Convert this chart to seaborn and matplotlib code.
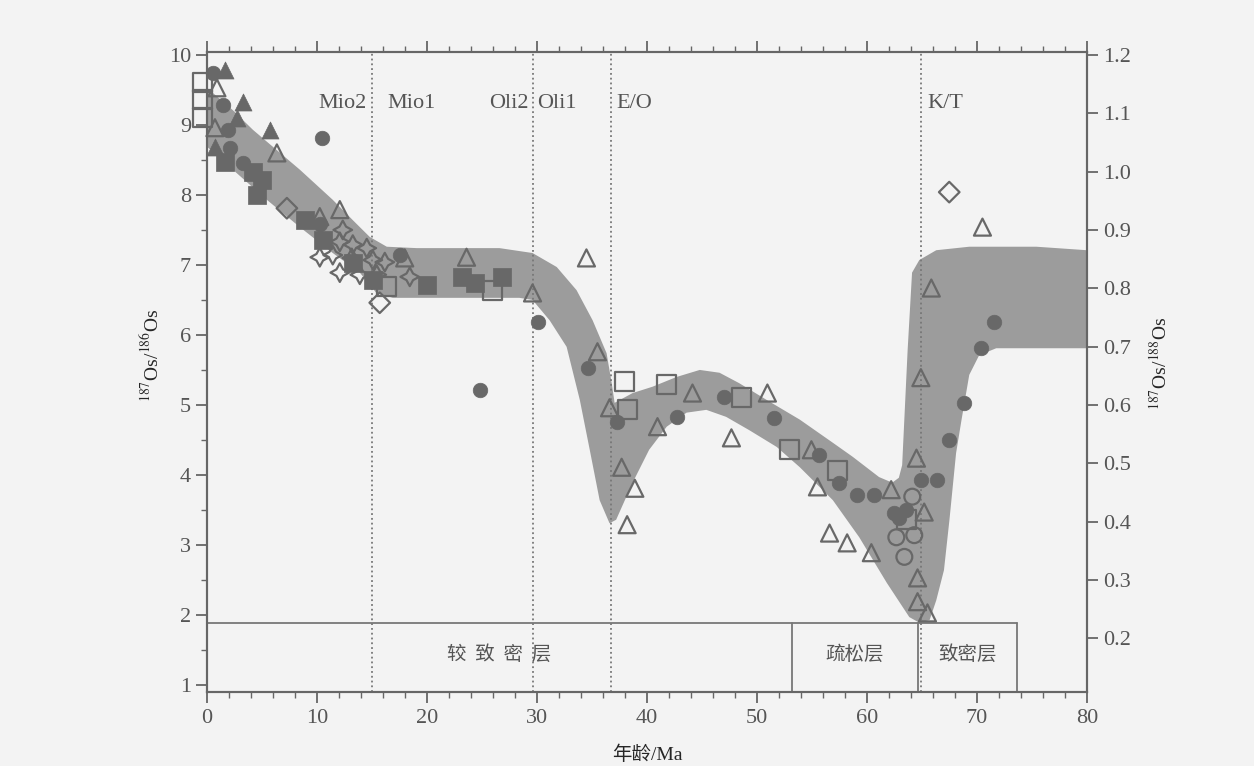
import matplotlib
matplotlib.use('Agg')
import matplotlib.pyplot as plt
import seaborn as sns
import pandas as pd
from matplotlib.ticker import MultipleLocator

# --- data: age (Ma) and 187Os/186Os ---
# filled circles
fc_age = [0.54, 1.45, 1.91, 2.09, 3.27, 10.45, 10.26, 17.53, 30.06, 24.8, 34.6, 37.24, 42.69,
          47.05, 51.59, 55.68, 57.49, 59.13, 60.67, 62.49, 63.58, 62.94, 64.94, 66.39, 67.48,
          68.85, 70.39, 71.57]
fc_val = [9.74, 9.29, 8.93, 8.67, 8.46, 8.81, 7.59, 7.14, 6.19, 5.21, 5.53, 4.76, 4.83,
          5.11, 4.81, 4.29, 3.89, 3.71, 3.71, 3.46, 3.50, 3.39, 3.93, 3.93, 4.50,
          5.03, 5.81, 6.19]

# filled triangles
ft_age = [1.63, 3.27, 2.72, 5.72, 0.73]
ft_val = [9.79, 9.33, 9.10, 8.93, 8.69]

# filled squares
fs_age = [1.63, 4.18, 5.0, 4.54, 8.9, 10.54, 13.26, 15.08, 19.98, 23.16, 24.34, 26.79]
fs_val = [8.47, 8.33, 8.21, 8.00, 7.64, 7.36, 7.03, 6.79, 6.71, 6.83, 6.74, 6.83]

# open triangles
ot_age = [0.91, 0.73, 6.36, 10.26, 12.08, 17.98, 23.6, 29.6, 34.5, 35.5, 36.6, 37.7, 38.9,
          38.2, 40.96, 44.14, 47.68, 50.95, 54.95, 55.5, 56.6, 58.2, 60.4, 62.2, 64.5,
          65.2, 64.6, 64.6, 65.5, 65.85, 70.5, 64.9]
ot_val = [9.53, 8.96, 8.60, 7.69, 7.79, 7.10, 7.11, 6.60, 7.10, 5.76, 4.96, 4.11, 3.81,
          3.29, 4.69, 5.17, 4.53, 5.17, 4.36, 3.83, 3.17, 3.03, 2.89, 3.79, 4.24,
          3.47, 2.53, 2.19, 2.03, 6.67, 7.54, 5.39]

# open squares
osq_age = [-0.4, -0.4, -0.4, 16.35, 25.98, 37.97, 38.24, 41.78, 48.59, 52.95, 57.31, 63.58]
osq_val = [9.60, 9.36, 9.10, 6.69, 6.64, 5.33, 4.93, 5.29, 5.11, 4.36, 4.06, 3.36]

# open diamonds
od_age = [7.27, 15.71, 67.48]
od_val = [7.81, 6.46, 8.04]

# open circles
oc_age = [64.12, 62.67, 64.3, 63.4]
oc_val = [3.69, 3.11, 3.14, 2.83]

# open four-point stars
st_age = [12.35, 12.08, 13.26, 14.53, 10.26, 11.44, 13.17, 15.08, 16.17, 12.08, 13.9, 15.44, 18.44]
st_val = [7.50, 7.33, 7.29, 7.24, 7.11, 7.14, 7.10, 7.07, 7.04, 6.89, 6.86, 6.86, 6.83]

# grey envelope: upper and lower edges
band_top_age = [0, 2.36, 4.18, 8.45, 11.44, 13.26, 14.8, 16.35, 19.07, 26.6, 29.6, 31.8, 33.6,
                35.06, 36.33, 36.8, 37.06, 38.7, 40.5, 42.7, 44.8, 46.6, 48.4, 50.9, 53.9,
                56.9, 58.7, 61.1, 62.3, 62.9, 63.2, 63.7, 64.1, 64.76, 66.3, 69.3, 75.4, 80]
band_top_val = [9.53, 9.21, 8.93, 8.36, 7.93, 7.64, 7.40, 7.26, 7.24, 7.24, 7.17, 6.97, 6.64,
                6.21, 5.74, 5.31, 5.03, 5.17, 5.26, 5.40, 5.50, 5.46, 5.31, 5.07, 4.79,
                4.46, 4.26, 3.97, 3.89, 3.96, 4.14, 5.79, 6.89, 7.07, 7.21, 7.26, 7.26, 7.21]
band_bot_age = [0, 2.36, 5.45, 8.45, 11.44, 13.9, 15.4, 16.9, 20.5, 28.4, 29.6, 31.15, 32.7,
                33.9, 34.8, 35.7, 36.6, 37.2, 38.7, 40.2, 41.8, 43.6, 45.4, 47.2, 49.3,
                51.8, 53.9, 56.9, 59.3, 61.8, 63.85, 64.76, 65.7, 66.3, 67.0, 67.5, 68.1,
                68.6, 69.3, 70.2, 71.75, 75.7, 80]
band_bot_val = [8.69, 8.36, 7.93, 7.54, 7.17, 6.89, 6.60, 6.53, 6.53, 6.53, 6.50, 6.21, 5.83,
                5.07, 4.36, 3.64, 3.31, 3.36, 3.89, 4.36, 4.69, 4.89, 4.93, 4.83, 4.64,
                4.40, 4.11, 3.64, 3.11, 2.46, 1.97, 1.89, 1.93, 2.21, 2.64, 3.36, 4.31,
                4.79, 5.43, 5.71, 5.81, 5.81, 5.81]

# stratigraphic boundaries and layer zones
boundary_ages = [15.0, 29.6, 36.7, 64.9]
zone_edges = [0, 53.2, 64.6, 73.6]
zone_names = ['较  致  密  层', '疏松层', '致密层']
zone_top = 1.88

INK = '#555555'
BAND = '#9c9c9c'
DARK = '#686868'
BG = '#f3f3f3'

sns.set_style('ticks')
plt.rcParams['font.family'] = ['Liberation Serif', 'Noto Sans CJK SC']
plt.rcParams['mathtext.fontset'] = 'stix'
plt.rcParams['text.color'] = INK
plt.rcParams['axes.edgecolor'] = '#666666'
plt.rcParams['xtick.color'] = '#666666'
plt.rcParams['ytick.color'] = '#666666'
plt.rcParams['xtick.labelcolor'] = INK
plt.rcParams['ytick.labelcolor'] = INK

fig = plt.figure(figsize=(12.54, 7.66), dpi=100, facecolor=BG)
ax = fig.add_axes([0.165, 0.0966, 0.7018, 0.8354])
ax.set_facecolor(BG)

# envelope
poly_x = band_top_age + band_bot_age[::-1]
poly_y = band_top_val + band_bot_val[::-1]
ax.fill(poly_x, poly_y, color=BAND, lw=0, zorder=1)

# boundary lines
for b in boundary_ages:
    ax.axvline(b, color='#777777', ls=':', lw=1.3, zorder=2)

# layer boxes at the bottom
ax.plot([0, zone_edges[-1]], [zone_top, zone_top], color='#777777', lw=1.3, zorder=2)
for e in zone_edges[1:]:
    ax.plot([e, e], [0.9, zone_top], color='#777777', lw=1.3, zorder=2)
for i, name in enumerate(zone_names):
    mid = (zone_edges[i] + zone_edges[i + 1]) / 2
    ax.text(mid, 1.43, name, ha='center', va='center', fontsize=14,
            family=['Noto Sans CJK SC'], color=INK)

# markers
def scat(xs, ys, marker, size, filled):
    df = pd.DataFrame({'age': xs, 'ratio': ys})
    if filled:
        sns.scatterplot(data=df, x='age', y='ratio', marker=marker, s=size, color=DARK,
                        edgecolor=DARK, linewidth=0.5, ax=ax, zorder=4, clip_on=False)
    else:
        sns.scatterplot(data=df, x='age', y='ratio', marker=marker, s=size, facecolor='none',
                        edgecolor=DARK, linewidth=1.6, ax=ax, zorder=4, clip_on=False)

scat(fc_age, fc_val, 'o', 110, True)
scat(ft_age, ft_val, '^', 150, True)
scat(fs_age, fs_val, 's', 150, True)
scat(ot_age, ot_val, '^', 150, False)
scat(osq_age, osq_val, 's', 190, False)
scat(od_age, od_val, 'D', 110, False)
scat(oc_age, oc_val, 'o', 130, False)
scat(st_age, st_val, (4, 1, 0), 180, False)

# boundary names
lab_y = 9.3
ax.text(boundary_ages[0] - 0.5, lab_y, 'Mio2', ha='right', va='center', fontsize=16)
ax.text(boundary_ages[0] + 1.4, lab_y, 'Mio1', ha='left', va='center', fontsize=16)
ax.text(boundary_ages[1] - 0.4, lab_y, 'Oli2', ha='right', va='center', fontsize=16)
ax.text(boundary_ages[1] + 0.4, lab_y, 'Oli1', ha='left', va='center', fontsize=16)
ax.text(boundary_ages[2] + 0.5, lab_y, 'E/O', ha='left', va='center', fontsize=16)
ax.text(boundary_ages[3] + 0.6, lab_y, 'K/T', ha='left', va='center', fontsize=16)

# axes
ax.set_xlim(0, 80)
ax.set_ylim(0.9, 10.04)
ax.xaxis.set_major_locator(MultipleLocator(10))
ax.xaxis.set_minor_locator(MultipleLocator(2))
ax.yaxis.set_major_locator(MultipleLocator(1))
ax.yaxis.set_minor_locator(MultipleLocator(0.5))
ax.set_yticks(range(1, 11))
ax.tick_params(axis='both', which='major', direction='out', length=8, width=1.3,
               labelsize=16, top=True, labeltop=False)
ax.tick_params(axis='both', which='minor', direction='out', length=4, width=1.0, top=True)
ax.tick_params(axis='x', which='major', pad=4)
for s in ax.spines.values():
    s.set_linewidth(1.5)

ax.set_xlabel('年龄/Ma', fontsize=14, va='center')
ax.xaxis.set_label_coords(0.5, -0.098)
ax.set_ylabel(r'$^{187}$Os/$^{186}$Os', fontsize=14)
ax.yaxis.set_label_coords(-0.05, 0.527)

ax2 = ax.twinx()
ax2.set_ylim(0.9 * 0.12, 10.04 * 0.12)
ax2.set_yticks([0.2, 0.3, 0.4, 0.5, 0.6, 0.7, 0.8, 0.9, 1.0, 1.1, 1.2])
ax2.set_yticklabels(['0.2', '0.3', '0.4', '0.5', '0.6', '0.7', '0.8', '0.9', '1.0', '1.1', '1.2'])
ax2.tick_params(axis='y', direction='out', length=8, width=1.3, labelsize=16)
ax2.set_ylabel(r'$^{187}$Os/$^{188}$Os', fontsize=14, rotation=90)
ax2.yaxis.set_label_coords(1.07, 0.514)
for s in ax2.spines.values():
    s.set_linewidth(1.5)

fig.savefig('out.png', dpi=100, facecolor=BG)
